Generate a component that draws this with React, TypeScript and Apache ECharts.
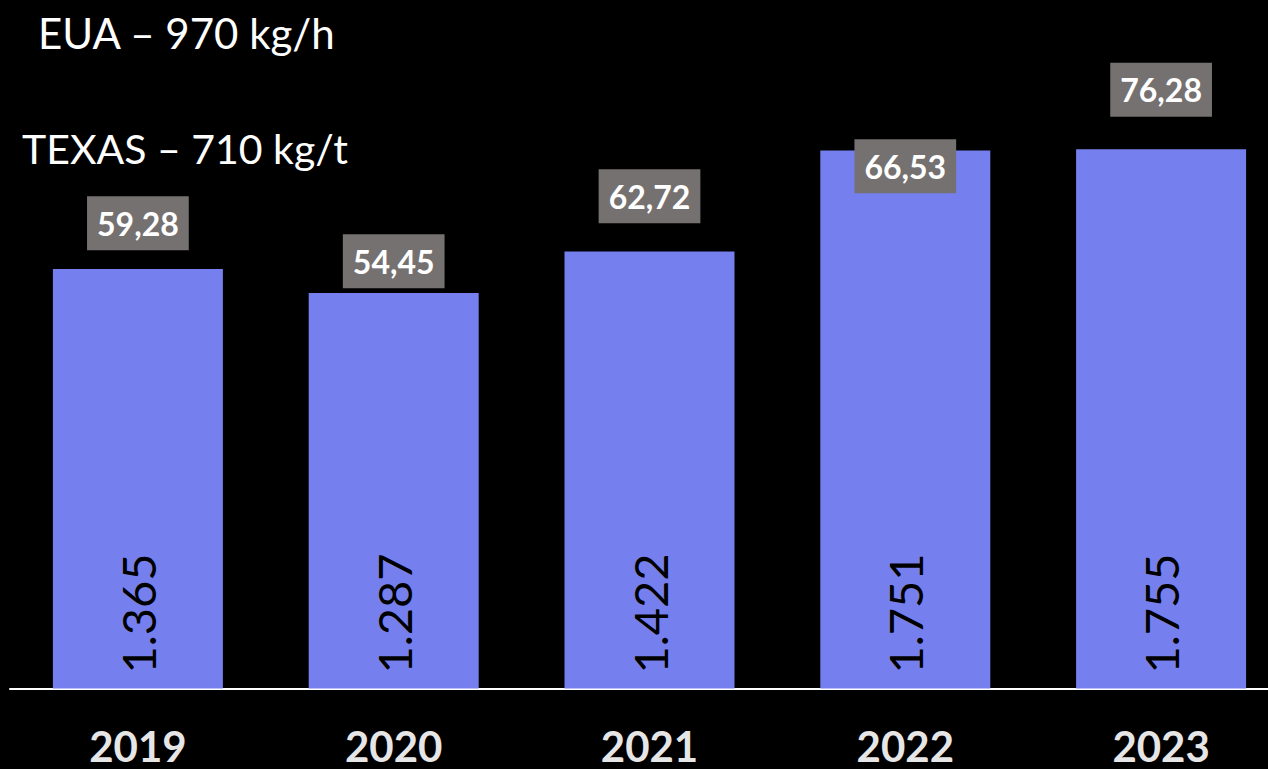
import React, { useEffect, useRef } from "react";
import * as echarts from "echarts";

const years = ["2019", "2020", "2021", "2022", "2023"];
const volumes = [1365, 1287, 1422, 1751, 1755];
const volumeLabels = ["1.365", "1.287", "1.422", "1.751", "1.755"];
const prices = [59.28, 54.45, 62.72, 66.53, 76.28];
const priceLabels = ["59,28", "54,45", "62,72", "66,53", "76,28"];
const titleLines = ["EUA – 970 kg/h", "TEXAS – 710 kg/t"];

export default function App() {
  const ref = useRef<HTMLDivElement>(null);
  useEffect(() => {
    if (!ref.current) return;
    const chart = echarts.init(ref.current, null, { renderer: "svg" });
    chart.setOption({
      animation: false,
      backgroundColor: "#000000",
      grid: { left: 10, right: 0, top: 74, bottom: 80.5, containLabel: false, outerBoundsMode: "none" },
      xAxis: {
        type: "category",
        data: years,
        axisLine: { show: true, lineStyle: { color: "#ffffff", width: 2 } },
        axisTick: { show: false },
        axisLabel: {
          color: "#E7E6E6",
          fontFamily: "Lato",
          fontWeight: "bold",
          fontSize: 42,
          margin: 36,
        },
      },
      yAxis: [
        { type: "value", min: 0, max: 2000, show: false, splitLine: { show: false } },
        { type: "value", min: 0, max: 78.3, show: false, splitLine: { show: false } },
      ],
      graphic: [
        {
          type: "text",
          x: 38,
          y: 33,
          style: {
            text: titleLines[0],
            fill: "#ffffff",
            font: "42px Lato",
            verticalAlign: "middle",
          },
        },
        {
          type: "text",
          x: 22,
          y: 148,
          style: {
            text: titleLines[1],
            fill: "#ffffff",
            font: "41px Lato",
            verticalAlign: "middle",
          },
        },
      ],
      series: [
        {
          type: "bar",
          data: volumes,
          barWidth: 170,
          itemStyle: { color: "#7580EE" },
          label: {
            show: true,
            position: "insideBottom",
            rotate: 90,
            align: "left",
            verticalAlign: "middle",
            distance: 15,
            color: "#000000",
            fontFamily: "Lato",
            fontSize: 47,
            formatter: (p: any) => volumeLabels[p.dataIndex],
          },
        },
        {
          type: "scatter",
          yAxisIndex: 1,
          data: prices,
          symbolSize: 1,
          itemStyle: { color: "rgba(0,0,0,0)", opacity: 1 },
          z: 5,
          label: {
            show: true,
            position: "inside",
            color: "#ffffff",
            fontFamily: "Lato",
            fontWeight: "bold",
            fontSize: 32,
            backgroundColor: "#767171",
            padding: [11, 10, 11, 10],
            formatter: (p: any) => priceLabels[p.dataIndex],
          },
        },
      ],
    });
    return () => chart.dispose();
  }, []);
  return (
    <div style={{ width: 1268, height: 769, position: "absolute", left: 0, top: 0, overflow: "hidden", background: "#000" }}>
      <div ref={ref} style={{ width: 1289, height: 769 }} />
    </div>
  );
}
